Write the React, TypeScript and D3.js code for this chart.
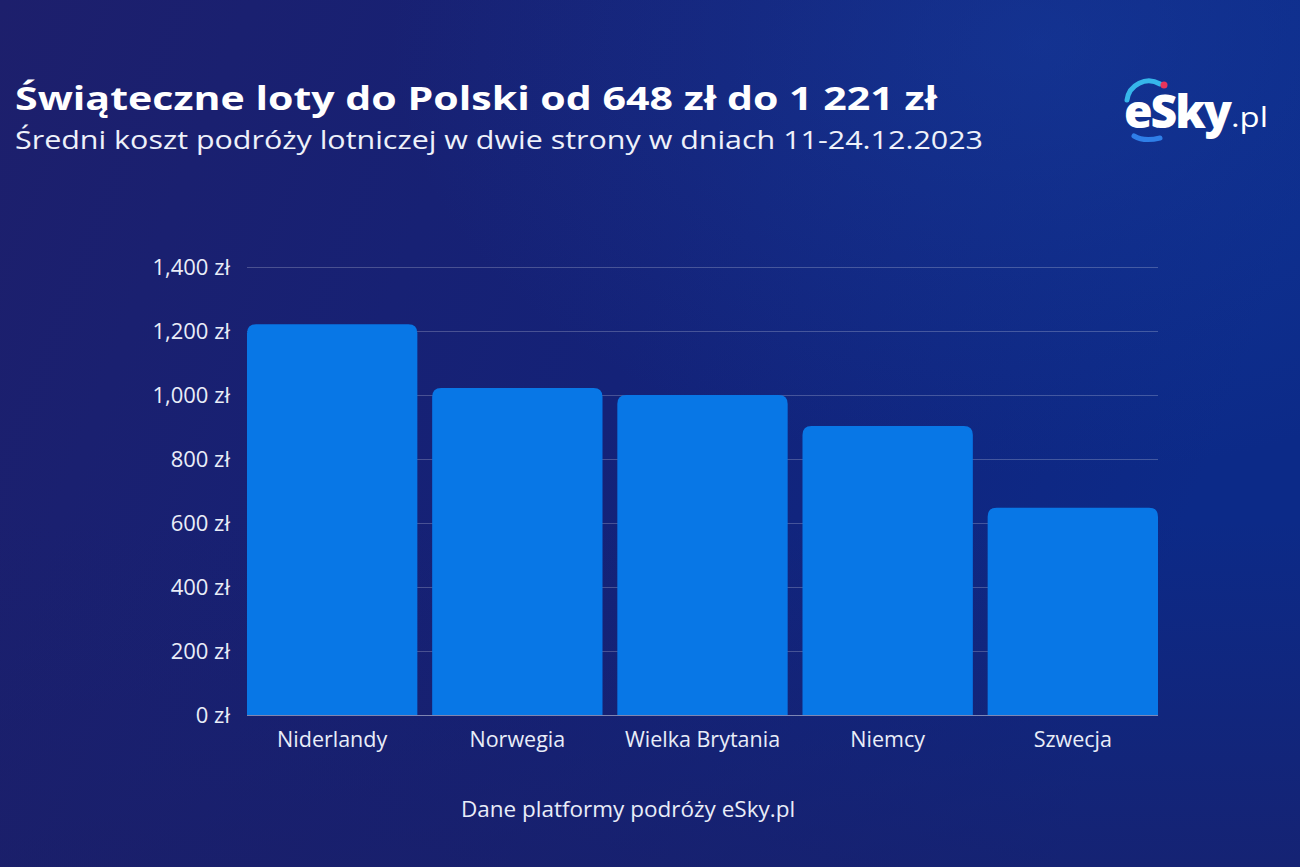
import React, { useEffect, useRef } from "react";
import * as d3 from "d3";

const countries = ["Niderlandy", "Norwegia", "Wielka Brytania", "Niemcy", "Szwecja"];
const prices = [1221, 1022, 1000, 903, 648];
const yTicks = [0, 200, 400, 600, 800, 1000, 1200, 1400];

const title = "Świąteczne loty do Polski od 648 zł do 1 221 zł";
const subtitle = "Średni koszt podróży lotniczej w dwie strony w dniach 11-24.12.2023";
const source = "Dane platformy podróży eSky.pl";

const W = 1300;
const H = 867;
const FONT = "'Open Sans', 'Noto Sans', sans-serif";

const App = () => {
  const ref = useRef<SVGSVGElement>(null);

  useEffect(() => {
    const svg = d3.select(ref.current);
    svg.selectAll("*").remove();

    const margin = { top: 267, right: 142, bottom: 152, left: 247 };

    // tło
    const defs = svg.append("defs");
    const lg = defs
      .append("linearGradient")
      .attr("id", "bg")
      .attr("x1", "0")
      .attr("y1", "0")
      .attr("x2", "1")
      .attr("y2", "0.25");
    lg.append("stop").attr("offset", "0%").attr("stop-color", "#1d1f6c");
    lg.append("stop").attr("offset", "55%").attr("stop-color", "#142278");
    lg.append("stop").attr("offset", "100%").attr("stop-color", "#0c2a88");

    const rg = defs
      .append("radialGradient")
      .attr("id", "glow")
      .attr("cx", "0.8")
      .attr("cy", "0.05")
      .attr("r", "0.5");
    rg.append("stop").attr("offset", "0%").attr("stop-color", "#1a4ab0").attr("stop-opacity", 0.35);
    rg.append("stop").attr("offset", "100%").attr("stop-color", "#1a4ab0").attr("stop-opacity", 0);

    const bottomShade = defs
      .append("linearGradient")
      .attr("id", "shade")
      .attr("x1", "0")
      .attr("y1", "0")
      .attr("x2", "0")
      .attr("y2", "1");
    bottomShade.append("stop").attr("offset", "60%").attr("stop-color", "#1b1e66").attr("stop-opacity", 0);
    bottomShade.append("stop").attr("offset", "100%").attr("stop-color", "#1b1e66").attr("stop-opacity", 0.6);

    svg.append("rect").attr("width", W).attr("height", H).attr("fill", "url(#bg)");
    svg.append("rect").attr("width", W).attr("height", H).attr("fill", "url(#glow)");
    svg.append("rect").attr("width", W).attr("height", H).attr("fill", "url(#shade)");

    // skale
    const x = d3
      .scaleBand()
      .domain(countries)
      .range([margin.left, W - margin.right])
      .paddingInner(0.08)
      .paddingOuter(0);

    const y = d3
      .scaleLinear()
      .domain([0, 1400])
      .range([H - margin.bottom, margin.top]);

    // siatka + oś Y
    const yAxis = svg
      .append("g")
      .attr("transform", `translate(${margin.left}, 0)`)
      .call(
        d3
          .axisLeft(y)
          .tickValues(yTicks)
          .tickSize(-(W - margin.right - margin.left))
          .tickPadding(17)
          .tickFormat((d) => `${d3.format(",")(d as number)} zł`)
      );
    yAxis.select(".domain").remove();
    yAxis
      .selectAll(".tick line")
      .attr("stroke", "#ffffff")
      .attr("stroke-opacity", (d) => (d === 0 ? 0.45 : 0.22));
    yAxis
      .selectAll(".tick text")
      .attr("fill", "#e9edf8")
      .attr("font-family", FONT)
      .attr("font-size", 22);

    // słupki z zaokrąglonymi górnymi rogami
    const r = 9;
    const barPath = (x0: number, w: number, top: number, bottom: number) =>
      `M${x0},${bottom}V${top + r}Q${x0},${top} ${x0 + r},${top}H${x0 + w - r}Q${x0 + w},${top} ${x0 + w},${top + r}V${bottom}Z`;

    svg
      .append("g")
      .selectAll("path")
      .data(countries)
      .enter()
      .append("path")
      .attr("fill", "#0877e6")
      .attr("d", (c, i) => barPath(x(c) as number, x.bandwidth(), y(prices[i]), y(0)));

    // etykiety kategorii
    svg
      .append("g")
      .selectAll("text")
      .data(countries)
      .enter()
      .append("text")
      .text((d) => d)
      .attr("x", (d) => (x(d) as number) + x.bandwidth() / 2)
      .attr("y", y(0) + 32)
      .attr("fill", "#e9edf8")
      .attr("font-family", FONT)
      .attr("font-size", 21.5)
      .attr("text-anchor", "middle");

    // tytuły
    svg
      .append("text")
      .text(title)
      .attr("x", 15)
      .attr("y", 110)
      .attr("fill", "#ffffff")
      .attr("font-family", FONT)
      .attr("font-weight", 700)
      .attr("font-size", 33)
      .attr("textLength", 922)
      .attr("lengthAdjust", "spacingAndGlyphs");

    svg
      .append("text")
      .text(subtitle)
      .attr("x", 15)
      .attr("y", 149)
      .attr("fill", "#eef1fa")
      .attr("font-family", FONT)
      .attr("font-size", 26)
      .attr("textLength", 968)
      .attr("lengthAdjust", "spacingAndGlyphs");

    svg
      .append("text")
      .text(source)
      .attr("x", 628)
      .attr("y", 817)
      .attr("fill", "#e9edf8")
      .attr("font-family", FONT)
      .attr("font-size", 22.5)
      .attr("text-anchor", "middle");

    // logo eSky.pl
    const logo = svg.append("g").attr("transform", "translate(1120, 0)");
    logo
      .append("path")
      .attr("d", "M7,100 A22,22 0 0 1 40,84")
      .attr("fill", "none")
      .attr("stroke", "#36b6ea")
      .attr("stroke-width", 5)
      .attr("stroke-linecap", "round");
    logo.append("circle").attr("cx", 44).attr("cy", 85).attr("r", 3.5).attr("fill", "#e8345a");
    logo
      .append("path")
      .attr("d", "M14,136 Q24,142 40,138")
      .attr("fill", "none")
      .attr("stroke", "#2f7fe8")
      .attr("stroke-width", 5)
      .attr("stroke-linecap", "round");
    logo
      .append("text")
      .attr("x", 4)
      .attr("y", 128)
      .attr("fill", "#ffffff")
      .attr("font-family", FONT)
      .attr("font-weight", 800)
      .attr("font-size", 46)
      .attr("letter-spacing", -2)
      .attr("textLength", 106)
      .attr("lengthAdjust", "spacingAndGlyphs")
      .text("eSky");
    logo
      .append("text")
      .attr("x", 111)
      .attr("y", 127)
      .attr("fill", "#ffffff")
      .attr("font-family", FONT)
      .attr("font-weight", 500)
      .attr("font-size", 27)
      .attr("textLength", 37)
      .attr("lengthAdjust", "spacingAndGlyphs")
      .text(".pl");
  }, []);

  return (
    <svg
      ref={ref}
      width={W}
      height={H}
      style={{ position: "absolute", left: 0, top: 0, display: "block" }}
    />
  );
};

export default App;
